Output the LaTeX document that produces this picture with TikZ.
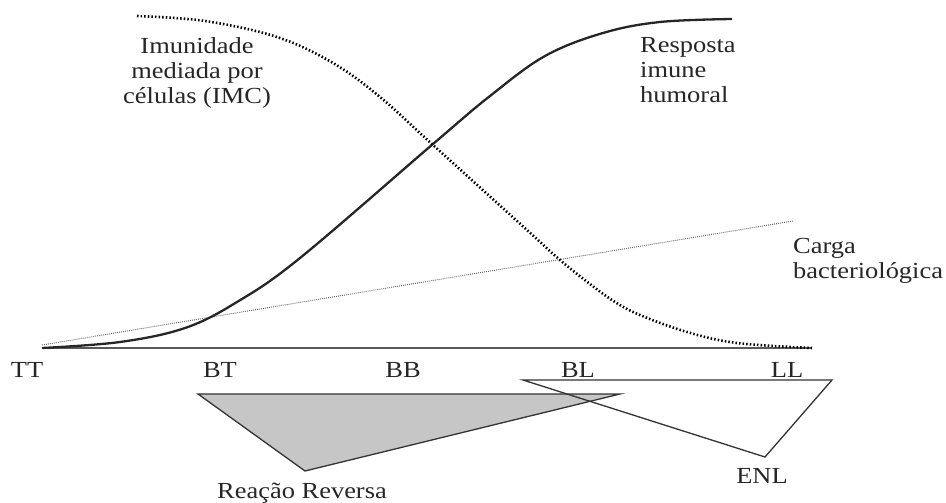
\documentclass[tikz,border=0pt]{standalone}
\usepackage{fontspec}
\setmainfont{Liberation Serif}[FakeStretch=1.15]
\begin{document}
\begin{tikzpicture}[x=1pt,y=-1pt,
  lbl/.style={inner sep=0pt, font=\fontsize{23}{25}\selectfont, text=black!85},
  humoral/.style={line width=2.3pt, black!85},
  imc/.style={line width=2.6pt, black, dash pattern=on 1.5pt off 2.1pt},
  carga/.style={line width=1pt, black!60, dash pattern=on 0.9pt off 1.1pt},
  axisline/.style={line width=1.6pt, black!65},
  tri/.style={line width=1.3pt, black!80, line join=miter}]
\useasboundingbox (0,0) rectangle (946,503);
% axis
\coordinate (a0) at (42,348);
\coordinate (a1) at (812,348);
\draw[axisline] (a0) -- (a1);
% carga line
\coordinate (c0) at (42,345);
\coordinate (c1) at (793,221);
\draw[carga] (c0) -- (c1);
% humoral curve
\draw[humoral] plot[smooth, tension=0.6] coordinates {(42,348) (120,342) (185,328) (237,302) (300,258) (433,144) (490,96) (545,56) (603,33) (660,22) (732,19)};
% IMC curve
\draw[imc] plot[smooth, tension=0.6] coordinates {(137,16) (205,21) (277,37) (333,63) (380,97) (433,145) (527,230) (560,260) (590,284) (615,302) (640,315) (687,332) (737,343) (812,348)};
% triangles
\coordinate (r1) at (198,394);
\coordinate (r2) at (620,394);
\coordinate (r3) at (305,471);
\filldraw[tri, fill=gray!45] (r1) -- (r2) -- (r3) -- cycle;
\coordinate (e1) at (523,380);
\coordinate (e2) at (832,380);
\coordinate (e3) at (765,457);
\draw[tri] (e1) -- (e2) -- (e3) -- cycle;
% labels
\node[lbl, anchor=north, align=center] (imcl) at (197,37) {Imunidade\\mediada por\\células (IMC)};
\node[lbl, anchor=north west, align=left] (huml) at (640,37) {Resposta\\imune\\humoral};
\node[lbl, anchor=north west, align=left] (carl) at (793,238) {Carga\\bacteriológica};
\node[lbl, anchor=base] (tt) at (27,377) {TT};
\node[lbl, anchor=base] (bt) at (220,377) {BT};
\node[lbl, anchor=base] (bb) at (403,377) {BB};
\node[lbl, anchor=base] (bl) at (578,377) {BL};
\node[lbl, anchor=base] (ll) at (787,377) {LL};
\node[lbl, anchor=base] (enl) at (762,483) {ENL};
\node[lbl, anchor=base] (rr) at (302,498) {Reação Reversa};
\end{tikzpicture}
\end{document}
